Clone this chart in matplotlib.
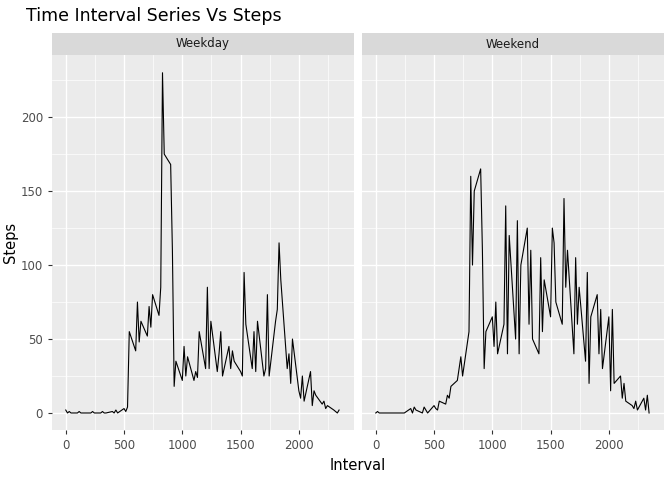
import matplotlib
matplotlib.use("Agg")
import matplotlib.pyplot as plt

# intervals every 15 minutes, in HHMM form
intervals = [h * 100 + m for h in range(24) for m in (0, 15, 30, 45)]

weekday_steps = [
    2, 0, 1, 0,   0, 1, 0, 0,   0, 0, 1, 0,   0, 1,
    0, 0, 1, 0,   2, 0, 3, 1,   4, 55, 42,  75, 48, 62, 52,
    72, 58, 80, 66, 85, 230, 175, 168, 110, 18, 35, 22,  45, 25, 38, 22,
    28, 24, 55, 30, 85, 30, 62, 28,  40, 55, 25, 45,  30, 42, 35, 28,
    25, 95, 60, 30, 55, 28, 62, 25,  30, 80, 25, 62,  70, 115, 90, 30,
    40, 20, 50, 15, 10, 25, 8, 28,  5, 15, 12, 6,   8, 3, 5, 2, 1, 0, 2,
]

weekend_steps = [
    0, 1, 0, 0,   0, 0, 0, 0,   0, 0, 0, 0,   3, 0, 4, 2,
    0, 4, 2, 0,   5, 3, 2, 8,   6, 12, 10, 18,  22, 30, 38, 25,
    55, 160, 100, 150, 165, 110, 30, 55,  65, 45, 75, 40,  60, 140, 40, 120,
    50, 130, 40, 100,  125, 60, 110, 50,  40, 105, 55, 90,  65, 125, 115, 75,
    60, 145, 85, 110,  40, 105, 60, 85,  35, 95, 20, 65,  80, 40, 70, 30,
    65, 15, 70, 20,  25, 10, 20, 8,  5, 3, 8, 2,   10, 2, 12, 0,
]

panels = [("Weekday", weekday_steps), ("Weekend", weekend_steps)]

fig = plt.figure(figsize=(6.72, 4.8), dpi=100)
W, H = 672, 480
strip_h = 22
top = 33
bottom = 430
lefts = [52, 362]
width = 302

for i, (label, steps) in enumerate(panels):
    x0 = lefts[i]
    ax = fig.add_axes([x0 / W, (H - bottom) / H, width / W, (bottom - top - strip_h) / H])
    ax.set_facecolor("#EBEBEB")
    for s in ax.spines.values():
        s.set_visible(False)
    ax.set_xlim(-118, 2473)
    ax.set_ylim(-11.5, 242)
    ax.set_xticks([0, 500, 1000, 1500, 2000])
    ax.set_yticks([0, 50, 100, 150, 200])
    ax.set_xticks([250, 750, 1250, 1750, 2250], minor=True)
    ax.set_yticks([25, 75, 125, 175, 225], minor=True)
    ax.grid(which="major", color="white", linewidth=1.0)
    ax.grid(which="minor", color="white", linewidth=0.5)
    ax.set_axisbelow(True)
    ax.tick_params(which="major", length=3, color="#333333", labelsize=8.5,
                   labelcolor="#4D4D4D")
    ax.tick_params(which="minor", length=0)
    ax.plot(intervals, steps, color="black", linewidth=0.8)
    if i == 1:
        ax.set_yticklabels([])
        ax.tick_params(axis="y", length=0)
    else:
        ax.set_ylabel("Steps", fontsize=10.5, labelpad=2)
    sax = fig.add_axes([x0 / W, (H - top - strip_h) / H, width / W, strip_h / H])
    sax.set_facecolor("#D9D9D9")
    sax.set_xticks([]); sax.set_yticks([])
    for s in sax.spines.values():
        s.set_visible(False)
    sax.text(0.5, 0.5, label, ha="center", va="center", fontsize=8.5, color="#1A1A1A",
             transform=sax.transAxes)

fig.text((52 + 664) / 2 / W, 1 - 466 / H, "Interval", ha="center", va="center", fontsize=10.5)
fig.text(26 / W, 1 - 16 / H, "Time Interval Series Vs Steps", ha="left", va="center", fontsize=12.5)

fig.savefig("out.png", dpi=100, facecolor="white")
